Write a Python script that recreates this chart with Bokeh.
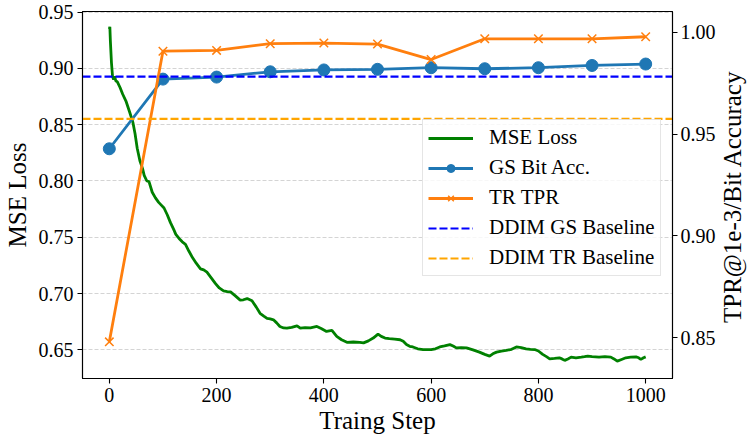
from bokeh.plotting import figure
from bokeh.models import (Range1d, LinearAxis, FixedTicker, PrintfTickFormatter,
                          Legend, LegendItem, Div)
from bokeh.layouts import row
from bokeh.embed import file_html
from bokeh.resources import INLINE

# ---------------- data ----------------
mse_steps = [0, 1, 2, 4, 6, 8, 10, 12, 15, 20, 25, 31, 38, 44, 48, 52, 57, 62, 65, 70,
             74, 80, 86, 92, 96, 102, 108, 114, 120, 124, 130, 136, 142, 148, 155, 162,
             170, 176, 182, 190, 198, 205, 213, 220, 226, 235, 244, 250, 257, 266, 274,
             281, 288, 294, 300, 306, 312, 318, 325, 331, 340, 350, 356, 365, 375, 387,
             395, 405, 415, 424, 433, 443, 455, 467, 474, 483, 492, 501, 507, 514, 522,
             532, 542, 548, 554, 560, 566, 575, 585, 600, 608, 616, 625, 635, 641, 647,
             656, 666, 678, 690, 700, 709, 715, 722, 731, 740, 750, 759, 768, 777, 785,
             793, 800, 808, 815, 821, 830, 839, 844, 849, 855, 861, 870, 880, 886, 892,
             900, 913, 924, 935, 941, 947, 955, 963, 972, 982, 987, 991, 996, 1000]
mse_loss = [0.935, 0.937, 0.924, 0.905, 0.893, 0.890, 0.893, 0.889, 0.888, 0.883, 0.877,
            0.871, 0.861, 0.852, 0.842, 0.829, 0.818, 0.811, 0.805, 0.800, 0.7995, 0.790,
            0.785, 0.781, 0.779, 0.776, 0.770, 0.763, 0.757, 0.7526, 0.749, 0.746, 0.7438,
            0.738, 0.732, 0.727, 0.722, 0.721, 0.719, 0.714, 0.7088, 0.705, 0.7024, 0.7018,
            0.7015, 0.698, 0.6942, 0.6945, 0.6956, 0.6936, 0.688, 0.6825, 0.680, 0.678,
            0.6775, 0.6767, 0.674, 0.6708, 0.6695, 0.6693, 0.670, 0.6714, 0.6693, 0.6698,
            0.6695, 0.6708, 0.669, 0.6664, 0.6673, 0.662, 0.659, 0.6567, 0.657, 0.6567,
            0.6562, 0.658, 0.6605, 0.664, 0.662, 0.6605, 0.660, 0.6596, 0.659, 0.6576,
            0.6547, 0.6532, 0.6526, 0.651, 0.6503, 0.6503, 0.651, 0.6526, 0.6535, 0.6547,
            0.6535, 0.6518, 0.652, 0.6518, 0.650, 0.648, 0.646, 0.6445, 0.6465, 0.648,
            0.649, 0.6495, 0.6505, 0.6526, 0.652, 0.6509, 0.6505, 0.6503, 0.649, 0.646,
            0.644, 0.6421, 0.6425, 0.643, 0.642, 0.6407, 0.642, 0.6436, 0.643, 0.6436,
            0.644, 0.6445, 0.644, 0.6436, 0.644, 0.6436, 0.642, 0.640, 0.6415, 0.643,
            0.6435, 0.6438, 0.643, 0.6416, 0.643, 0.6438]

eval_steps = [0, 100, 200, 300, 400, 500, 600, 700, 800, 900, 1000]
gs_bit_acc = [0.9428, 0.9770, 0.9780, 0.9806, 0.9815, 0.9818, 0.9826, 0.9821, 0.9826, 0.9837, 0.9844]
tr_tpr = [0.848, 0.9907, 0.9911, 0.9944, 0.9947, 0.9942, 0.9866, 0.9968, 0.9968, 0.9968, 0.9978]

ddim_gs_baseline = 0.9782
ddim_tr_baseline = 0.9575

left_ticks = [0.65, 0.70, 0.75, 0.80, 0.85, 0.90, 0.95]
right_ticks = [0.85, 0.90, 0.95, 1.00]
x_ticks = [0, 200, 400, 600, 800, 1000]
right_axis_title = "TPR@1e-3/Bit Accuracy"

# ---------------- figure ----------------
FONT = "Liberation Serif"

fig = figure(width=718, height=436, output_backend="svg", toolbar_location=None,
             x_range=Range1d(-50, 1050), y_range=Range1d(0.6246, 0.9505),
             min_border_left=82, min_border_right=45, min_border_top=11, min_border_bottom=53)
fig.extra_y_ranges = {"right": Range1d(0.830, 1.0102)}

fig.background_fill_color = "white"
fig.border_fill_color = "white"
fig.outline_line_color = "black"
fig.outline_line_width = 1.1

fig.xgrid.visible = False
fig.ygrid.grid_line_color = "#d4d4d4"
fig.ygrid.grid_line_dash = "4 2"
fig.ygrid.grid_line_width = 1
fig.ygrid.ticker = FixedTicker(ticks=left_ticks)

def style_axis(ax):
    ax.major_label_text_font = FONT
    ax.major_label_text_font_size = "20px"
    ax.major_label_text_color = "black"
    ax.axis_label_text_font = FONT
    ax.axis_label_text_font_size = "25px"
    ax.axis_label_text_font_style = "normal"
    ax.axis_label_text_color = "black"
    ax.axis_line_color = "black"
    ax.axis_line_width = 1.1
    ax.major_tick_line_color = "black"
    ax.major_tick_line_width = 1.1
    ax.major_tick_out = 5
    ax.major_tick_in = 0
    ax.minor_tick_line_color = None
    ax.major_label_standoff = 4

fig.xaxis.ticker = FixedTicker(ticks=x_ticks)
fig.xaxis.axis_label = "Traing Step"
fig.yaxis.ticker = FixedTicker(ticks=left_ticks)
fig.yaxis.formatter = PrintfTickFormatter(format="%.2f")
fig.yaxis.axis_label = "MSE Loss"
for ax in (fig.xaxis[0], fig.yaxis[0]):
    style_axis(ax)
fig.xaxis.axis_label_standoff = 2
fig.yaxis.axis_label_standoff = 5

raxis = LinearAxis(y_range_name="right", ticker=FixedTicker(ticks=right_ticks),
                   formatter=PrintfTickFormatter(format="%.2f"))
style_axis(raxis)
raxis.major_label_standoff = 3
fig.add_layout(raxis, "right")

# ---------------- glyphs ----------------
r_mse = fig.line(mse_steps, mse_loss, line_color="green", line_width=2.8)

r_gs_line = fig.line(eval_steps, gs_bit_acc, line_color="#1f77b4", line_width=2.8, y_range_name="right")
r_gs_pts = fig.scatter(eval_steps, gs_bit_acc, marker="circle", size=12, fill_color="#1f77b4",
                       line_color="#1f77b4", y_range_name="right")

r_tr_line = fig.line(eval_steps, tr_tpr, line_color="#ff7f0e", line_width=2.8, y_range_name="right")
r_tr_pts = fig.scatter(eval_steps, tr_tpr, marker="x", size=12, line_color="#ff7f0e",
                       line_width=1.5, y_range_name="right")

r_gs_base = fig.line([-50, 1050], [ddim_gs_baseline, ddim_gs_baseline], line_color="blue",
                     line_width=2.1, line_dash="8 3", y_range_name="right")
r_tr_base = fig.line([-50, 1050], [ddim_tr_baseline, ddim_tr_baseline], line_color="orange",
                     line_width=2.1, line_dash="8 3", y_range_name="right")

legend = Legend(items=[
    LegendItem(label="MSE Loss", renderers=[r_mse]),
    LegendItem(label="GS Bit Acc.", renderers=[r_gs_line, r_gs_pts]),
    LegendItem(label="TR TPR", renderers=[r_tr_line, r_tr_pts]),
    LegendItem(label="DDIM GS Baseline", renderers=[r_gs_base]),
    LegendItem(label="DDIM TR Baseline", renderers=[r_tr_base]),
], location=(340, 102))
legend.label_text_font = FONT
legend.label_text_font_size = "21px"
legend.label_text_color = "black"
legend.glyph_width = 45
legend.glyph_height = 20
legend.label_height = 20
legend.label_standoff = 16
legend.spacing = 5
legend.padding = 5
legend.margin = 0
legend.border_line_color = "#cccccc"
legend.border_line_width = 1
legend.background_fill_color = "white"
legend.background_fill_alpha = 0.8
fig.add_layout(legend, "center")

# right-axis title (reads bottom-to-top, like the reference)
title_div = Div(
    text=('<div style="writing-mode: vertical-rl; transform: rotate(180deg); '
          'font-family: \'Liberation Serif\'; font-size: 25px; line-height: 29px; '
          'color: black; height: 372px; width: 29px; text-align: center; '
          'margin-top: 11px; white-space: nowrap;">' + right_axis_title + '</div>'),
    width=29, height=436, margin=0, styles={"background-color": "white"})

p = row(fig, title_div, spacing=0)

open("out.html", "w").write(file_html(p, INLINE))
